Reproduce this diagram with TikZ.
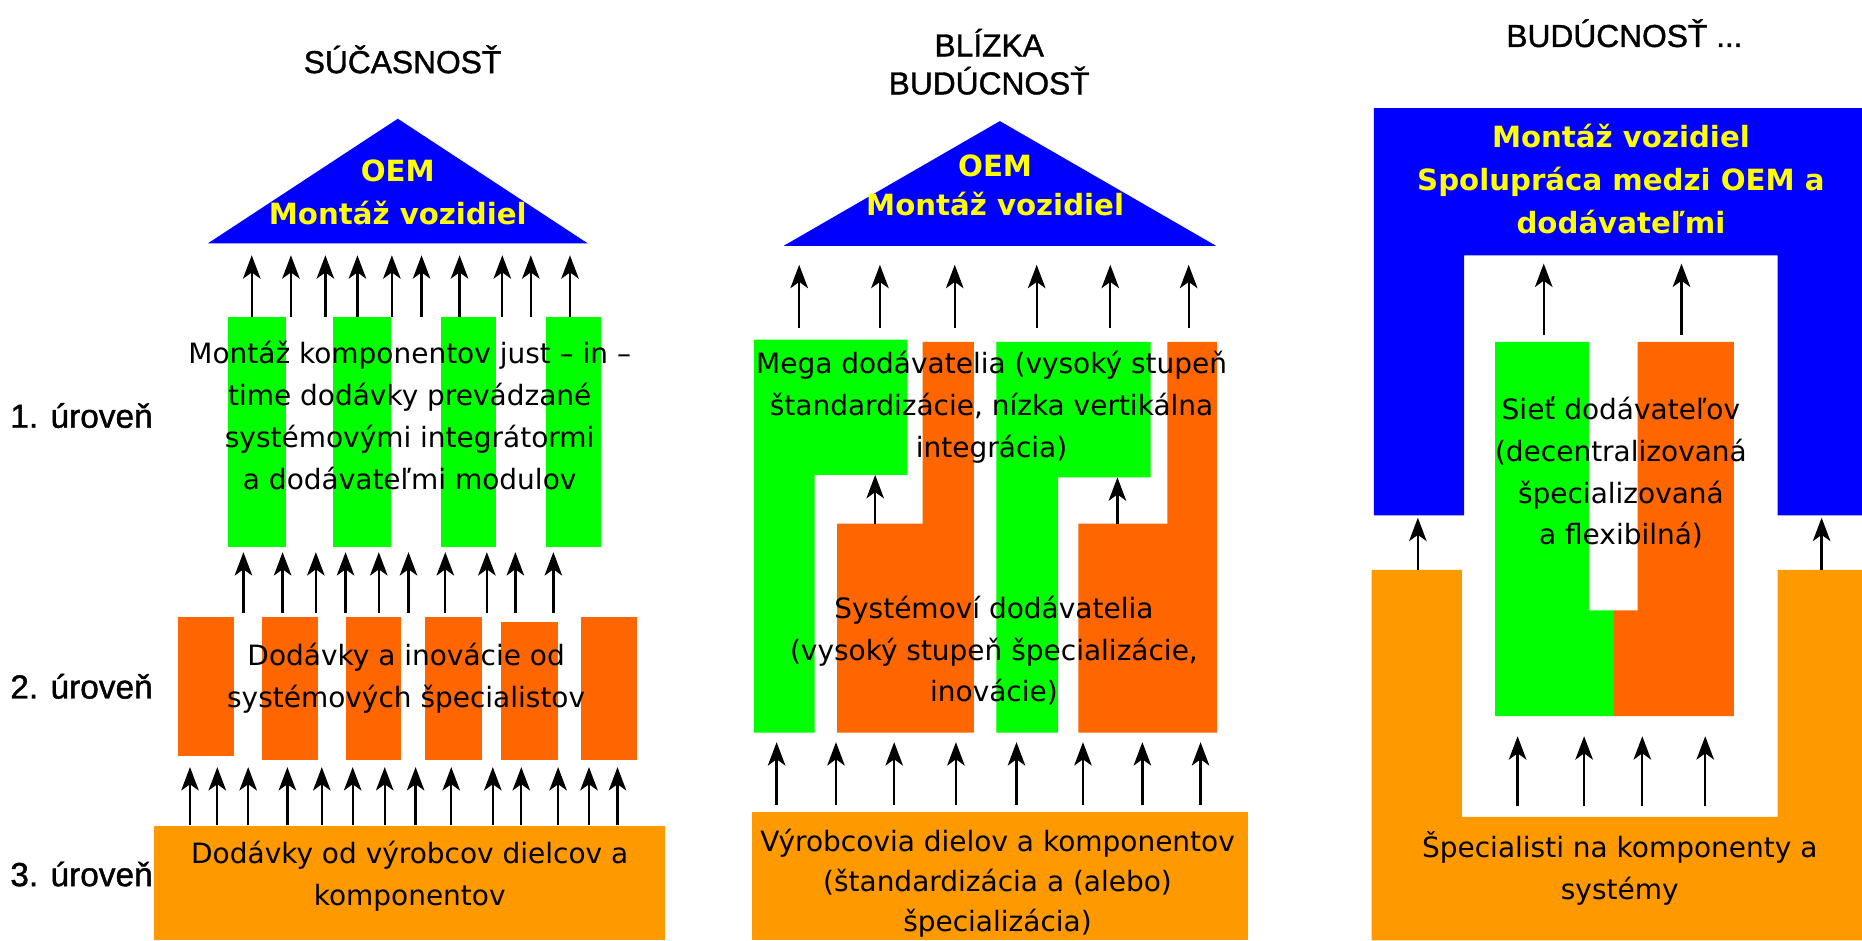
\documentclass[tikz,border=0pt]{standalone}
\usepackage{fontspec}
\setmainfont{DejaVu Sans}
\newfontfamily\titlefont{Liberation Sans}[FakeBold=1.2]
\usetikzlibrary{arrows.meta}
\definecolor{oemblue}{RGB}{0,0,255}
\definecolor{oemyellow}{RGB}{255,255,0}
\definecolor{lgreen}{RGB}{0,255,0}
\definecolor{redorange}{RGB}{255,102,0}
\definecolor{lorange}{RGB}{255,153,0}
\begin{document}
\begin{tikzpicture}[x=0.01cm,y=-0.01cm,
  arr/.style={line width=0.55pt, -{Stealth[length=5.6pt,width=4.2pt,inset=1.5pt]}},
  body/.style={font=\fontsize{6.7}{10}\selectfont, align=center, inner sep=0pt, text=black},
  oem/.style={font=\bfseries\fontsize{7}{10.3}\selectfont, text=oemyellow, align=center, inner sep=0pt},
  ttl/.style={font=\titlefont\fontsize{7.6}{9.1}\selectfont, align=center, inner sep=0pt},
  lvl/.style={font=\titlefont\fontsize{8}{10}\selectfont, anchor=west, inner sep=0pt},
]
\useasboundingbox (0,0) rectangle (1568,792);

% ================= Panel 1: SUCASNOST =================
\node[ttl] (t1) at (339,50) {SÚČASNOSŤ};
\fill[oemblue] (175,205) coordinate (tri1l) -- (335,100) coordinate (tri1a) -- (495,205) coordinate (tri1r) -- cycle;
\node[oem, font=\bfseries\fontsize{7}{10.4}\selectfont] (oem1) at (335,162) {OEM\\Montáž vozidiel};

\foreach \x [count=\i] in {212,245,274,301,330,355,387,423,447,480}{
  \coordinate (p1as\i) at (\x,267); \coordinate (p1at\i) at (\x,215);
  \draw[arr] (p1as\i) -- (p1at\i);}

\fill[lgreen] (192,267) rectangle (241,461);
\fill[lgreen] (280,267) rectangle (329,461);
\fill[lgreen] (371,267) rectangle (418,461);
\fill[lgreen] (460,267) rectangle (506,461);
\node[body] (n11) at (345,350) {Montáž komponentov just – in –\\time dodávky prevádzané\\systémovými integrátormi\\a dodávateľmi modulov};

\foreach \x [count=\i] in {205,238,266,291,319,344,375,410,434,466}{
  \coordinate (p1bs\i) at (\x,516); \coordinate (p1bt\i) at (\x,465);
  \draw[arr] (p1bs\i) -- (p1bt\i);}

\fill[redorange] (150,520) rectangle (197,637);
\fill[redorange] (221,520) rectangle (268,640);
\fill[redorange] (291,520) rectangle (338,640);
\fill[redorange] (358,520) rectangle (406,640);
\fill[redorange] (422,524) rectangle (470,640);
\fill[redorange] (489,520) rectangle (536,640);
\node[body] (n12) at (342,571) {Dodávky a inovácie od\\systémových špecialistov};

\foreach \x [count=\i] in {160,183,209,242,271,297,324,350,380,415,439,470,496,520}{
  \coordinate (p1cs\i) at (\x,695); \coordinate (p1ct\i) at (\x,646);
  \draw[arr] (p1cs\i) -- (p1ct\i);}

\fill[lorange] (130,696) rectangle (560,792);
\node[body] (n13) at (345,738) {Dodávky od výrobcov dielcov a\\komponentov};

\node[lvl] (l1) at (8,350) {1. úroveň};
\node[lvl] (l2) at (8,578) {2. úroveň};
\node[lvl] (l3) at (8,736) {3. úroveň};

% ================= Panel 2: BLIZKA BUDUCNOST =================
\node[ttl] (t2) at (833,52) {BLÍZKA\\BUDÚCNOSŤ};
\fill[oemblue] (660,207) coordinate (tri2l) -- (842,102) coordinate (tri2a) -- (1024,207) coordinate (tri2r) -- cycle;
\node[oem, font=\bfseries\fontsize{7}{9.2}\selectfont] (oem2) at (838,156) {OEM\\Montáž vozidiel};

\foreach \x [count=\i] in {673,741,804,873,935,1001}{
  \coordinate (p2as\i) at (\x,276); \coordinate (p2at\i) at (\x,223);
  \draw[arr] (p2as\i) -- (p2at\i);}

\fill[lgreen] (635,286) -- (764,286) -- (764,400) -- (686,400) -- (686,617) -- (635,617) -- cycle;
\fill[redorange] (777,288) -- (820,288) -- (820,617) -- (705,617) -- (705,441) -- (777,441) -- cycle;
\fill[lgreen] (839,288) -- (969,288) -- (969,402) -- (891,402) -- (891,617) -- (839,617) -- cycle;
\fill[redorange] (983,288) -- (1025,288) -- (1025,617) -- (908,617) -- (908,441) -- (983,441) -- cycle;

\coordinate (p2m1s) at (737,441); \coordinate (p2m1t) at (737,400);
\coordinate (p2m2s) at (941,441); \coordinate (p2m2t) at (941,402);
\draw[arr] (p2m1s) -- (p2m1t);
\draw[arr] (p2m2s) -- (p2m2t);

\node[body] (n21) at (835,343) {Mega dodávatelia (vysoký stupeň\\štandardizácie, nízka vertikálna\\integrácia)};
\node[body] (n22) at (837,548) {Systémoví dodávatelia\\(vysoký stupeň špecializácie,\\inovácie)};

\foreach \x [count=\i] in {654,704,753,805,856,912,962,1011}{
  \coordinate (p2bs\i) at (\x,678); \coordinate (p2bt\i) at (\x,625);
  \draw[arr] (p2bs\i) -- (p2bt\i);}

\fill[lorange] (633,684) rectangle (1051,792);
\node[body, font=\fontsize{6.7}{9.6}\selectfont] (n23) at (840,744) {Výrobcovia dielov a komponentov\\(štandardizácia a (alebo)\\špecializácia)};

% ================= Panel 3: BUDUCNOST ... =================
\node[ttl] (t3) at (1368,28) {BUDÚCNOSŤ ...};
\fill[oemblue] (1157,91) -- (1568,91) -- (1568,434) -- (1497,434) -- (1497,215) -- (1233,215) -- (1233,434) -- (1157,434) -- cycle;
\node[oem] (oem3) at (1365,151) {Montáž vozidiel\\Spolupráca medzi OEM a\\dodávateľmi};

\foreach \x [count=\i] in {1300,1416}{
  \coordinate (p3as\i) at (\x,282); \coordinate (p3at\i) at (\x,222);
  \draw[arr] (p3as\i) -- (p3at\i);}

\fill[lgreen] (1259,288) -- (1338,288) -- (1338,514) -- (1359,514) -- (1359,603) -- (1259,603) -- cycle;
\fill[redorange] (1379,288) -- (1460,288) -- (1460,603) -- (1359,603) -- (1359,514) -- (1379,514) -- cycle;
\node[body] (n31) at (1365,398) {Sieť dodávateľov\\(decentralizovaná\\špecializovaná\\a flexibilná)};

\fill[lorange] (1155,480) -- (1231,480) -- (1231,688) -- (1497,688) -- (1497,480) -- (1568,480) -- (1568,792) -- (1155,792) -- cycle;

\foreach \x [count=\i] in {1278,1334,1383,1436}{
  \coordinate (p3bs\i) at (\x,679); \coordinate (p3bt\i) at (\x,620);
  \draw[arr] (p3bs\i) -- (p3bt\i);}

\coordinate (p3ls) at (1194,480); \coordinate (p3lt) at (1194,436);
\coordinate (p3rs) at (1534,480); \coordinate (p3rt) at (1534,436);
\draw[arr] (p3ls) -- (p3lt);
\draw[arr] (p3rs) -- (p3rt);

\node[body] (n32) at (1364,731) {Špecialisti na komponenty a\\systémy};
\end{tikzpicture}
\end{document}
